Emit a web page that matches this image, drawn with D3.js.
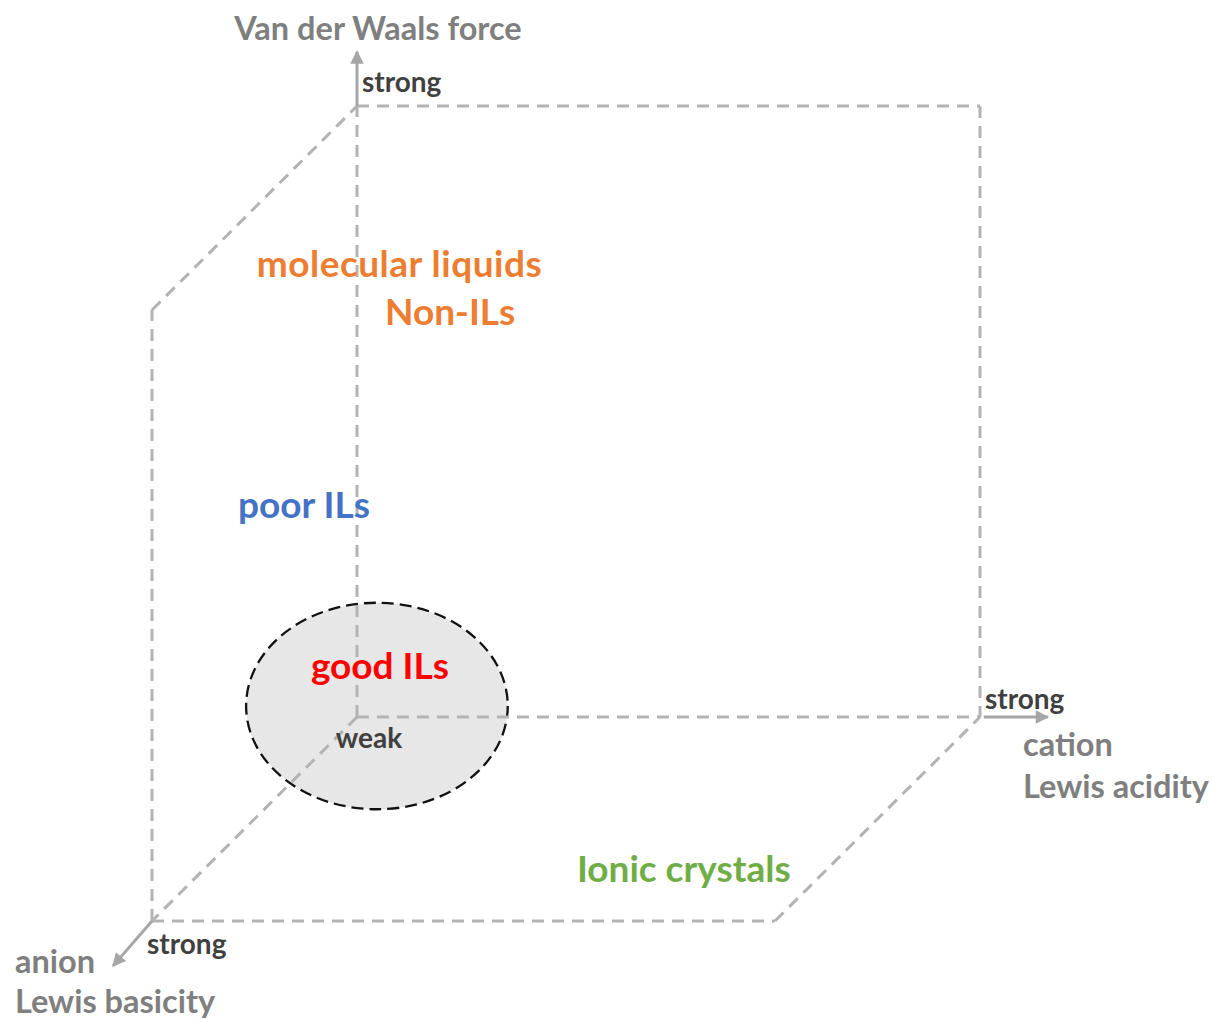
<!DOCTYPE html>
<html><head><meta charset="utf-8">
<script src="https://cdn.jsdelivr.net/npm/d3@7"></script>
<style>body{margin:0;background:#fff}svg text{font-family:Lato,"Open Sans",sans-serif;font-weight:700}</style>
</head><body><div id="chart"></div>
<script>
// axes: [cation Lewis acidity, Van der Waals force, anion Lewis basicity], 0 = weak, 1 = strong
const cubeEdges = [
  [[0,1,0],[1,1,0]], [[1,1,0],[1,0,0]], [[0,0,0],[1,0,0]],
  [[0,0,0],[0,0,1]], [[0,0,1],[0,1,1]], [[0,1,1],[0,1,0]],
  [[0,0,1],[1,0,1]], [[1,0,1],[1,0,0]], [[0,0,0],[0,1,0]]
];
const axisArrows = [
  {from:[0,1,0], to:[0,1.089,0]},
  {from:[1.006,0,0], to:[1.109,0,0]},
  {from:[0,0,1], to:[0,-0.01,1.19]}
];
const axisTitles = [
  {text:"Van der Waals force", pos:[-0.197,1.108,0]},
  {text:"cation", pos:[1.069,-0.064,0]},
  {text:"Lewis acidity", pos:[1.069,-0.132,0]},
  {text:"anion", pos:[-0.22,-0.085,1]},
  {text:"Lewis basicity", pos:[-0.22,-0.151,1]}
];
const tickLabels = [
  {text:"strong", pos:[0.008,1.023,0]},
  {text:"strong", pos:[1.008,0.013,0]},
  {text:"weak", pos:[-0.034,-0.0507,0]},
  {text:"strong", pos:[-0.008,-0.054,1]}
];
const regionLabels = [
  {text:"molecular liquids", pos:[-0.161,0.72,0], color:"#ed7d31", spacing:0.5},
  {text:"Non-ILs", pos:[0.045,0.641,0], color:"#ed7d31", spacing:0},
  {text:"poor ILs", pos:[-0.191,0.326,0], color:"#4472c4", spacing:0},
  {text:"good ILs", pos:[-0.074,0.062,0], color:"#ff0000", spacing:0},
  {text:"Ionic crystals", pos:[0.682,0.064,1], color:"#70ad47", spacing:0}
];
const goodRegion = {center:[0.032,0.018,0], rx:0.21, ry:0.169};

const W=1212,H=1019;
const sx = d3.scaleLinear().domain([0,1]).range([357,980]);
const sy = d3.scaleLinear().domain([0,1]).range([717,106]);
const szx = d3.scaleLinear().domain([0,1]).range([0,-205]);
const szy = d3.scaleLinear().domain([0,1]).range([0,204]);
const P = p => [sx(p[0])+szx(p[2]), sy(p[1])+szy(p[2])];

const svg = d3.select("#chart").append("svg").attr("width",W).attr("height",H);
const defs = svg.append("defs");
defs.append("marker").attr("id","ah").attr("viewBox","0 0 10 10").attr("refX",9).attr("refY",5)
  .attr("markerWidth",5).attr("markerHeight",4.5).attr("markerUnits","strokeWidth").attr("orient","auto")
  .append("path").attr("d","M0,0L10,5L0,10Z").attr("fill","#a6a6a6");

// ellipse
const ec = P(goodRegion.center);
svg.append("ellipse").attr("cx",ec[0]).attr("cy",ec[1])
  .attr("rx",sx(goodRegion.rx)-sx(0)).attr("ry",sy(0)-sy(goodRegion.ry))
  .attr("fill","#e7e7e7").attr("stroke","#111").attr("stroke-width",2.3).attr("stroke-dasharray","12,6");

svg.append("g").selectAll("line").data(cubeEdges).join("line")
  .attr("x1",d=>P(d[0])[0]).attr("y1",d=>P(d[0])[1])
  .attr("x2",d=>P(d[1])[0]).attr("y2",d=>P(d[1])[1])
  .attr("stroke","#b3b3b3").attr("stroke-width",3).attr("stroke-dasharray","12,8");

svg.append("g").selectAll("line").data(axisArrows).join("line")
  .attr("x1",d=>P(d.from)[0]).attr("y1",d=>P(d.from)[1])
  .attr("x2",d=>P(d.to)[0]).attr("y2",d=>P(d.to)[1])
  .attr("stroke","#a6a6a6").attr("stroke-width",3).attr("marker-end","url(#ah)");

svg.append("g").selectAll("text").data(axisTitles).join("text")
  .attr("x",d=>P(d.pos)[0]).attr("y",d=>P(d.pos)[1])
  .attr("fill","#7f7f7f").attr("font-size",32.5).text(d=>d.text);

svg.append("g").selectAll("text").data(tickLabels).join("text")
  .attr("x",d=>P(d.pos)[0]).attr("y",d=>P(d.pos)[1])
  .attr("fill","#404040").attr("font-size",28).text(d=>d.text);

svg.append("g").selectAll("text").data(regionLabels).join("text")
  .attr("x",d=>P(d.pos)[0]).attr("y",d=>P(d.pos)[1])
  .attr("letter-spacing",d=>d.spacing)
  .attr("fill",d=>d.color).attr("font-size",37).text(d=>d.text);
</script></body></html>
